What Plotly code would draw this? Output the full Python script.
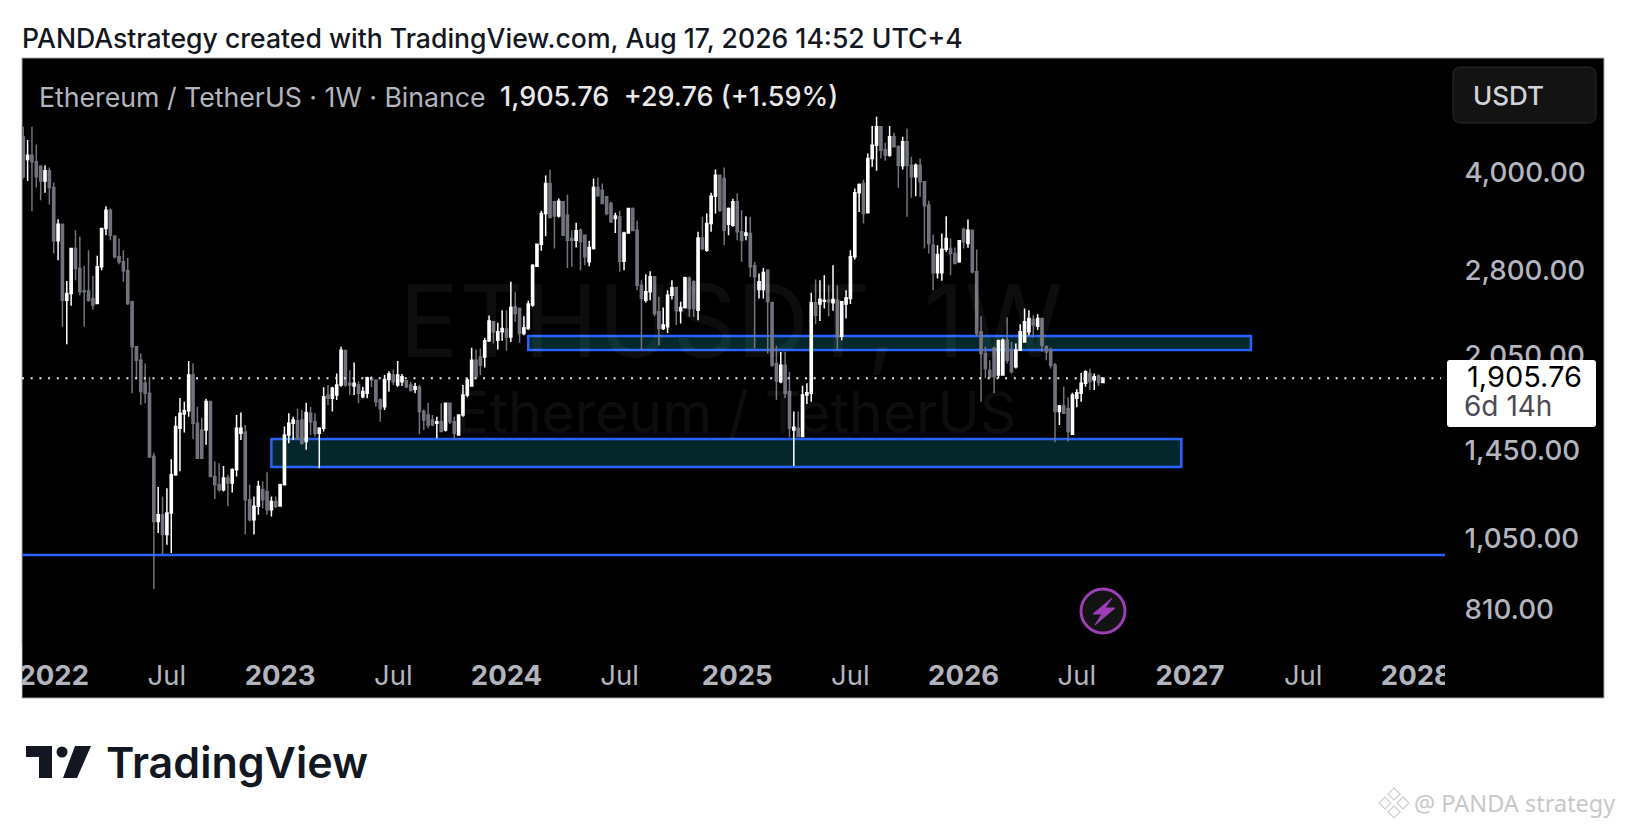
import pandas as pd
import plotly.graph_objects as go

# weekly ETHUSDT candles
opens = [4610,4242,4310,4206,4140,3920,4070,3830,3150,3348,
         2535,2598,3062,2846,2622,2622,2550,2505,2864,3296,
         3524,3204,2971,2917,2822,2520,2137,2035,1870,1803,
         1431,1128,1156,1075,1163,1338,1586,1672,1692,1928,
         1615,1577,1577,1750,1330,1290,1267,1322,1298,1363,
         1558,1563,1221,1135,1192,1267,1259,1177,1213,1194,
         1290,1548,1615,1631,1635,1511,1676,1625,1558,1586,
         1792,1770,1792,1858,2106,1870,1851,1858,1781,1803,
         1905,1893,1759,1717,1897,1928,1858,1881,1887,1858,
         1829,1843,1686,1665,1635,1615,1625,1577,1738,1625,
         1548,1665,1792,1851,2035,2060,2060,2185,2342,2190,
         2258,2281,2216,2474,2459,2243,2286,2490,2871,3112,
         3481,3885,3633,3451,3633,3460,3176,3157,3275,3216,
         2917,3062,3830,3792,3700,3611,3418,3439,2924,3243,
         3545,3275,2678,2535,2614,2761,2429,2286,2300,2582,
         2652,2438,2468,2745,2711,2444,3184,3044,3356,3709,
         4006,3958,3348,3336,3633,3255,3216,3235,2875,2636,
         2636,2829,2511,2010,1881,1998,1814,1577,1586,1539,
         1792,1803,2511,2499,2526,2535,2511,2535,2222,2499,
         2550,2971,3755,3885,3490,4258,4471,4782,4401,4310,
         4610,4444,4145,4526,4155,3982,4155,3910,3589,3100,
         2802,2802,3055,3062,3007,2917,3283,3119,3275,2812,
         2258,2085,1962,2124,1928,1928,2190,2111,1986,2111,
         2176,2258,2362,2305,2371,2137,2111,1998,1686,1721,
         1706,1552,1770,1803,1870,1939,1893,1920,1876]
highs = [4782,4554,4782,4480,4155,4155,4120,3900,3410,3356,
         2720,3062,3275,3196,2875,3044,2771,2982,3304,3576,
         3545,3216,3176,3044,2960,2530,2142,2085,2010,1916,
         1451,1279,1236,1274,1416,1658,1772,1748,2029,2012,
         1717,1649,1768,1755,1405,1396,1382,1338,1371,1665,
         1680,1606,1290,1236,1309,1306,1350,1236,1236,1295,
         1596,1676,1655,1706,1696,1742,1717,1676,1592,1843,
         1858,1847,1939,2137,2116,1962,2018,1885,1847,1916,
         1920,1893,1770,1928,1955,1967,2029,1935,1893,1881,
         1874,1858,1700,1742,1665,1655,1738,1742,1742,1655,
         1665,1858,1905,2129,2116,2124,2209,2397,2349,2334,
         2444,2444,2711,2610,2468,2391,2529,2892,3119,3518,
         4002,4090,3642,3677,3642,3733,3275,3364,3296,3224,
         3150,3958,3972,3885,3709,3633,3490,3515,3255,3545,
         3558,3389,2728,2788,2818,2761,2566,2468,2630,2728,
         2662,2520,2761,2768,2728,3255,3439,3481,3755,4090,
         4006,4120,3558,3673,3746,3524,3448,3439,2917,2795,
         2853,2836,2520,2145,2098,2098,1950,1686,1686,1854,
         1870,2604,2735,2728,2778,2678,2882,2678,2526,2630,
         3044,3815,3885,3944,4337,4794,4960,4794,4510,4794,
         4678,4471,4610,4753,4284,4181,4258,3920,3646,3224,
         3100,3235,3448,3176,3073,3157,3308,3405,3283,3051,
         2391,2137,2035,2137,2195,2203,2380,2176,2163,2322,
         2459,2444,2400,2409,2371,2150,2132,2015,1727,1847,
         1776,1807,1829,1943,1962,1974,1939,1932,1912]
lows = [3958,3920,3511,3830,3655,3755,3598,3007,2935,2300,
        2158,2483,2728,2582,2300,2520,2450,2499,2829,3216,
        3157,2953,2892,2711,2490,1803,1905,1727,1738,1425,
        881,1081,999,1036,1005,1333,1355,1562,1655,1524,
        1422,1422,1493,1326,1224,1259,1259,1192,1254,1330,
        1520,1075,1128,1075,1156,1184,1156,1149,1184,1192,
        1286,1502,1520,1520,1493,1466,1548,1539,1371,1567,
        1727,1686,1759,1847,1847,1792,1792,1738,1770,1770,
        1843,1717,1625,1696,1814,1858,1847,1851,1836,1814,
        1803,1552,1577,1586,1600,1530,1563,1567,1611,1520,
        1543,1655,1777,1847,1897,1928,1981,2176,2163,2116,
        2185,2106,2176,2342,2168,2230,2272,2474,2864,3037,
        3204,3421,3062,3431,3204,2853,2864,3073,2829,2882,
        2871,3051,3700,3602,3460,3364,3243,2812,2829,3235,
        3263,2630,2116,2514,2535,2391,2150,2272,2249,2541,
        2314,2328,2459,2385,2385,2356,3044,3026,3255,3481,
        3502,3100,3216,3316,3157,2917,3157,2761,2124,2550,
        2550,2085,1986,1759,1870,1770,1535,1382,1535,1535,
        1734,1748,2322,2348,2459,2391,2438,2116,2190,2371,
        2499,2942,3502,3356,3481,4130,4070,4258,4222,4284,
        4433,3824,4090,3439,3687,3709,3700,3062,3007,2630,
        2744,2721,3026,2778,2892,2906,3062,3070,2795,2222,
        1748,1905,1905,1803,1905,1928,2010,1939,1974,2106,
        2176,2230,2211,2272,2098,2035,1974,1507,1605,1672,
        1511,1548,1713,1748,1847,1825,1825,1851,1872]
closes = [3982,4310,4206,3982,3920,4070,3830,3150,3348,2535,
          2598,3062,2846,2614,2614,2535,2490,2864,3296,3524,
          3216,2971,2917,2822,2505,2137,2035,1814,1803,1428,
          1128,1156,1075,1163,1338,1596,1676,1692,1928,1615,
          1422,1422,1750,1330,1290,1267,1322,1298,1363,1586,
          1586,1221,1135,1192,1282,1221,1177,1213,1192,1290,
          1548,1615,1635,1530,1502,1680,1625,1558,1586,1781,
          1770,1836,1858,2111,1858,1858,1870,1803,1814,1909,
          1893,1748,1706,1897,1935,1881,1928,1916,1847,1821,
          1847,1686,1635,1605,1605,1625,1567,1738,1625,1558,
          1665,1792,1893,2035,1916,1998,2185,2349,2258,2258,
          2286,2216,2468,2415,2243,2291,2499,2882,3112,3481,
          3885,3431,3451,3642,3216,3157,3157,3267,3138,2971,
          3073,3830,3714,3611,3481,3376,3451,2924,3243,3545,
          3271,2678,2550,2614,2761,2415,2286,2314,2582,2652,
          2438,2468,2751,2459,2459,3184,3062,3356,3709,4006,
          3524,3275,3545,3633,3255,3157,3243,2864,2761,2711,
          2805,2520,1998,1886,1998,1803,1586,1592,1539,1792,
          1807,2511,2400,2544,2535,2520,2541,2216,2520,2557,
          2971,3755,3871,3481,4258,4471,4782,4390,4310,4610,
          4444,4155,4526,4155,3982,4155,3910,3580,3119,2802,
          2996,3055,3176,3007,2899,3150,3138,3275,2812,2243,
          2085,1974,1916,1916,2185,2190,2035,1950,2111,2258,
          2342,2371,2314,2371,2150,2098,1998,1686,1721,1676,
          1567,1792,1807,1870,1950,1881,1916,1876,1905.76]

first_week = "2021-11-15"
x_tick_dates = ["2022-01-03", "2022-07-04", "2023-01-02", "2023-07-03", "2024-01-01", "2024-07-01", "2025-01-06",
                "2025-07-07", "2026-01-05", "2026-07-06", "2027-01-04", "2027-07-05", "2028-01-03"]
x_tick_labels = ["<b>2022</b>", "Jul", "<b>2023</b>", "Jul", "<b>2024</b>", "Jul", "<b>2025</b>",
                 "Jul", "<b>2026</b>", "Jul", "<b>2027</b>", "Jul", "<b>2028</b>"]
y_tick_vals = [4000, 2800, 2050, 1450, 1050, 810]
y_tick_labels = ["4,000.00", "2,800.00", "2,050.00", "1,450.00", "1,050.00", "810.00"]

last_price = 1905.76
support_line = 998
upper_zone = ["2024-02-05", "2027-04-12", 2112, 2223]
lower_zone = ["2022-12-19", "2026-12-21", 1377, 1525]

GREY = "#71737d"
AXIS_TEXT = "#b2b5be"
BLUE = "#2962ff"
ZONE_FILL = "#03272a"
FONT = "Inter"

W, H = 1626, 828
L, R, T, B = 22, 1604, 58, 698  # black panel in page pixels


def px_x(px):
    return (px - L) / (R - L)


def px_y(py):
    return (B - py) / (B - T)


def round_rect(x0, y0, x1, y1, r):
    a, b, c, d = px_x(x0), px_x(x1), px_y(y0), px_y(y1)
    rx, ry = r / (R - L), r / (B - T)
    return (f"M{a+rx},{c} L{b-rx},{c} Q{b},{c} {b},{c-ry} L{b},{d+ry} Q{b},{d} {b-rx},{d} "
            f"L{a+rx},{d} Q{a},{d} {a},{d+ry} L{a},{c-ry} Q{a},{c} {a+rx},{c} Z")


def poly(points):
    return "M" + " L".join(f"{px_x(a)},{px_y(b)}" for a, b in points) + " Z"


dates = pd.date_range(first_week, periods=len(closes), freq="7D")

fig = go.Figure(go.Candlestick(
    x=dates, open=opens, high=highs, low=lows, close=closes,
    increasing=dict(line=dict(color="#ffffff", width=1.5), fillcolor="#ffffff"),
    decreasing=dict(line=dict(color=GREY, width=1.5), fillcolor=GREY),
    whiskerwidth=0, hoverinfo="skip",
))

shapes = [
    # black panel
    dict(type="rect", xref="paper", yref="paper", x0=0, x1=1, y0=0, y1=1, layer="below",
         fillcolor="#000000", line=dict(color="#a9a9ad", width=1)),
]
for zone in (upper_zone, lower_zone):
    shapes.append(dict(type="rect", xref="x", yref="y", x0=zone[0], x1=zone[1], y0=zone[2], y1=zone[3],
                       layer="below", fillcolor=ZONE_FILL, line=dict(color=BLUE, width=2.5)))
shapes += [
    dict(type="line", xref="paper", yref="y", x0=0, x1=px_x(1445), y0=support_line, y1=support_line,
         layer="below", line=dict(color=BLUE, width=2.5)),
    dict(type="line", xref="paper", yref="y", x0=0, x1=px_x(1441), y0=last_price, y1=last_price,
         layer="above", line=dict(color="#e8e8e8", width=2, dash="2px,6.7px")),
    # hide the cut off part of the 2028 label and of 2022 at the left
    dict(type="rect", xref="paper", yref="paper", x0=px_x(1445), x1=px_x(1500), y0=px_y(697), y1=px_y(645),
         layer="above", fillcolor="#000000", line=dict(width=0)),
    dict(type="rect", xref="paper", yref="paper", x0=px_x(0), x1=px_x(21.5), y0=px_y(697), y1=px_y(645),
         layer="above", fillcolor="#ffffff", line=dict(width=0)),
    # USDT button
    dict(type="path", xref="paper", yref="paper", path=round_rect(1453, 67, 1596, 123, 8), layer="above",
         fillcolor="#131313", line=dict(color="#2a2a2a", width=1)),
    # last price tag
    dict(type="path", xref="paper", yref="paper", path=round_rect(1447, 360, 1596, 427, 3), layer="above",
         fillcolor="#ffffff", line=dict(width=0)),
    # lightning badge
    dict(type="circle", xref="paper", yref="paper", x0=px_x(1081), x1=px_x(1125), y0=px_y(633), y1=px_y(589),
         layer="above", fillcolor="#131313", line=dict(color="#9c3fb5", width=3)),
    dict(type="path", xref="paper", yref="paper", layer="above", fillcolor="#9c3fb5", line=dict(color="#9c3fb5", width=1),
         path=poly([(1112, 598), (1093, 614), (1102, 614), (1095, 625), (1115, 608), (1105, 608)])),
    # TradingView logo
    dict(type="path", xref="paper", yref="paper", layer="above", fillcolor="#131722", line=dict(width=0),
         path=poly([(26, 746), (52, 746), (52, 778), (39, 778), (39, 757), (26, 757)])),
    dict(type="circle", xref="paper", yref="paper", x0=px_x(56.5), x1=px_x(67.5), y0=px_y(757.5), y1=px_y(746.5),
         layer="above", fillcolor="#131722", line=dict(width=0)),
    dict(type="path", xref="paper", yref="paper", layer="above", fillcolor="#131722", line=dict(width=0),
         path=poly([(75, 746), (91, 746), (77, 778), (63, 778)])),
]
# small Binance mark next to the watermark
for cx, cy in [(1394, 794), (1385, 803), (1403, 803), (1394, 812)]:
    shapes.append(dict(type="path", xref="paper", yref="paper", layer="above", fillcolor="rgba(0,0,0,0)",
                       line=dict(color="#cfcfcf", width=1.2),
                       path=poly([(cx, cy - 6), (cx + 6, cy), (cx, cy + 6), (cx - 6, cy)])))


def label(text, x, y, size, color, anchor="left", weight=400, family=FONT):
    return dict(text=text, xref="paper", yref="paper", x=px_x(x), y=px_y(y), xanchor=anchor, yanchor="middle",
                showarrow=False, font=dict(family=family, size=size, color=color, weight=weight))


annotations = [
    label("PANDAstrategy created with TradingView.com, Aug 17, 2026 14:52 UTC+4", 20, 38, 26.6, "#131722", weight=500),
    label("Ethereum / TetherUS · 1W · Binance", 37, 97, 26.7, AXIS_TEXT),
    label("1,905.76  +29.76 (+1.59%)", 498, 97, 27, "#e8e8ea", weight=500),
    label("USDT", 1471, 95, 26, "#d1d4dc", weight=500),
    label("1,905.76", 1465, 376, 29, "#000000"),
    label("6d 14h", 1462, 406, 28, "#4a4b52"),
    label("ETHUSDT, 1W", 731, 320, 100, "rgba(255,255,255,0.05)", anchor="center"),
    label("Ethereum / TetherUS", 735, 412, 57, "rgba(255,255,255,0.05)", anchor="center"),
    label("TradingView", 104, 762, 43, "#131722", weight=600),
    label("@ PANDA strategy", 1412, 803, 23.5, "#c9c9c9", family="Noto Sans"),
]

fig.update_layout(
    width=W, height=H,
    margin=dict(l=L, r=W - R, t=T, b=H - B, pad=0),
    paper_bgcolor="#ffffff", plot_bgcolor="rgba(0,0,0,0)",
    showlegend=False, shapes=shapes, annotations=annotations,
    font=dict(family=FONT, color=AXIS_TEXT),
    xaxis=dict(domain=[0, (1445 - L) / (R - L)], type="date", range=["2021-11-13", "2028-02-18"],
               rangeslider=dict(visible=False), showgrid=False, zeroline=False, showline=False,
               tickmode="array", tickvals=x_tick_dates, ticktext=x_tick_labels, tickangle=0,
               ticks="outside", ticklen=8, tickcolor="rgba(0,0,0,0)", tickfont=dict(size=27.5, color=AXIS_TEXT)),
    yaxis=dict(domain=[(B - 643) / (B - T), 1], type="log", range=[2.8591, 3.7889], side="right",
               showgrid=False, zeroline=False, showline=False,
               tickmode="array", tickvals=y_tick_vals, ticktext=y_tick_labels, ticklabelshift=-3,
               ticks="outside", ticklen=13, tickcolor="rgba(0,0,0,0)",
               tickfont=dict(size=27.7, color=AXIS_TEXT, weight=500)),
)

fig.write_html("out.html", post_script="document.body.style.margin='0';", config={"displayModeBar": False})
